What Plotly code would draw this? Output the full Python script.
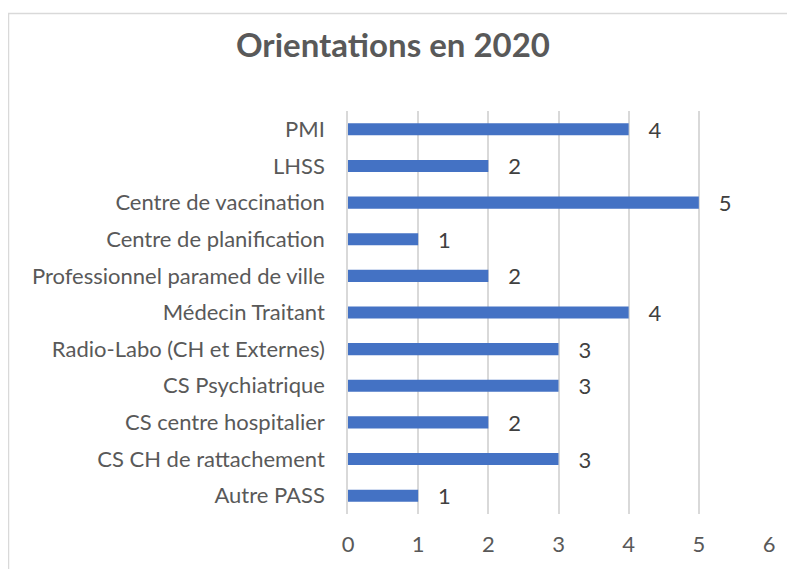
import plotly.graph_objects as go

categories = ["Autre PASS", "CS CH de rattachement", "CS centre hospitalier",
              "CS Psychiatrique", "Radio-Labo (CH et Externes)", "Médecin Traitant",
              "Professionnel paramed de ville", "Centre de planification",
              "Centre de vaccination", "LHSS", "PMI"]
values = [1, 3, 2, 3, 3, 4, 2, 1, 5, 2, 4]
x_ticks = [0, 1, 2, 3, 4, 5, 6]

FONT = "Lato, 'Open Sans', sans-serif"

# page has an 8px body margin, so figure coords = page coords - 8
OFF = 8
W, H = 795 - OFF, 569 - OFF
L, R, T, B = 348 - OFF, 769 - OFF, 111 - OFF, 518 - OFF

def px(x): return (x - OFF - L) / (R - L)
def py(y): return (B - (y - OFF)) / (B - T)

fig = go.Figure(go.Bar(
    x=values, y=categories, orientation="h",
    marker=dict(color="#4472C4", line=dict(width=0)),
    text=["\u00a0\u00a0\u00a0" + str(v) for v in values], textposition="outside",
    constraintext="none",
    textfont=dict(family=FONT, size=22, color="#404040"),
    cliponaxis=False, width=0.33,
))

fig.update_layout(
    width=W, height=H,
    margin=dict(l=L, r=W - R, t=T, b=H - B, pad=0),
    paper_bgcolor="white", plot_bgcolor="white",
    title=dict(text="<b>Orientations en 2020</b>", xref="container", x=(393 - OFF) / W,
               xanchor="center", yref="container", y=1 - (45 - OFF) / H, yanchor="middle",
               font=dict(family=FONT, size=33, color="#595959")),
    xaxis=dict(range=[0, 6], tickvals=x_ticks, showgrid=True, gridcolor="#D9D9D9", gridwidth=1.5,
               zeroline=False, showline=False, ticks="", ticklabelstandoff=15,
               tickfont=dict(family=FONT, size=22, color="#595959")),
    yaxis=dict(categoryorder="array", categoryarray=categories, showgrid=False,
               showline=True, linecolor="#D9D9D9", linewidth=1.5, ticks="",
               ticklabelstandoff=17,
               tickfont=dict(family=FONT, size=22, color="#595959")),
    showlegend=False,
    shapes=[dict(type="rect", xref="paper", yref="paper",
                 x0=px(8.5), x1=px(820), y0=py(12.5), y1=py(620),
                 line=dict(color="#D9D9D9", width=1.5), layer="below")],
)

fig.write_html("out.html")
